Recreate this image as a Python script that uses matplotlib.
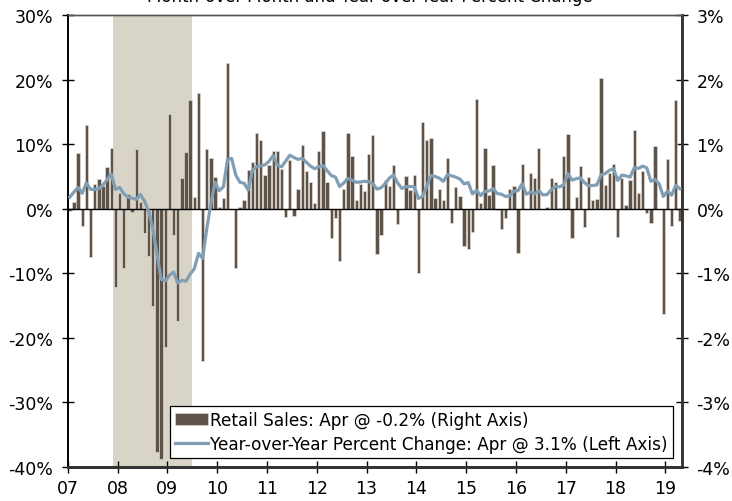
import matplotlib
matplotlib.use("Agg")
import matplotlib.pyplot as plt
import numpy as np


# monthly data, Jan 2007 .. Apr 2019
years = ["07", "08", "09", "10", "11", "12", "13", "14", "15", "16", "17", "18", "19"]

# retail sales, month-over-month % change (right axis)
mom = [
    -0.03, 0.10, 0.87, -0.27, 1.30, -0.75, 0.39, 0.46, 0.35, 0.65, 0.94, -1.21,   # 2007
    0.24, -0.92, 0.23, -0.05, 0.92, 0.10, -0.37, -0.73, -1.50, -3.77, -3.87, -2.14,  # 2008
    1.46, -0.40, -1.74, 0.47, 0.88, 1.68, 0.18, 1.80, -2.36, 0.92, 0.78, 0.49,    # 2009
    0.02, 0.17, 2.25, 0.00, -0.91, 0.03, 0.13, 0.60, 0.72, 1.18, 1.06, 0.52,      # 2010
    0.67, 0.89, 0.90, 0.61, -0.13, 0.75, -0.11, 0.30, 0.99, 0.58, 0.42, 0.09,     # 2011
    0.90, 1.21, 0.41, -0.46, -0.14, -0.81, 0.31, 1.18, 0.81, 0.13, 0.39, 0.27,    # 2012
    0.85, 1.14, -0.70, -0.41, 0.45, 0.36, 0.67, -0.23, -0.01, 0.50, 0.29, 0.53,   # 2013
    -0.99, 1.34, 1.07, 1.09, 0.17, 0.30, 0.13, 0.79, -0.22, 0.34, 0.19, -0.58,    # 2014
    -0.63, -0.36, 1.70, 0.09, 0.94, 0.21, 0.67, -0.02, -0.31, -0.14, 0.30, 0.35,  # 2015
    -0.68, 0.70, -0.01, 0.56, 0.47, 0.94, -0.01, 0.03, 0.47, 0.41, 0.01, 0.82,    # 2016
    1.16, -0.46, 0.18, 0.66, -0.28, 0.49, 0.14, 0.15, 2.02, 0.37, 0.56, 0.70,     # 2017
    -0.44, 0.47, 0.06, 0.44, 1.22, 0.24, 0.59, -0.07, -0.22, 0.97, 0.00, -1.63,   # 2018
    0.77, -0.27, 1.69, -0.19,                                                     # 2019
]

# year-over-year % change (left axis)
yoy = [
    1.8, 2.6, 3.3, 2.4, 4.0, 3.0, 3.0, 3.1, 3.7, 4.5, 5.4, 3.0,
    3.3, 2.35, 1.8, 1.65, 1.45, 2.2, 1.2, -0.4, -3.1, -7.0, -10.9, -11.2,
    -10.3, -9.8, -11.5, -11.1, -11.2, -10.1, -9.3, -6.9, -7.7, -3.1, 0.8, 4.1,
    2.8, 3.4, 7.6, 7.8, 5.2, 4.1, 3.95, 2.9, 6.0, 6.5, 6.65, 6.8,
    7.35, 8.25, 6.75, 6.5, 7.35, 8.3, 7.95, 7.65, 7.8, 7.2, 6.6, 6.2,
    6.5, 6.7, 5.9, 5.15, 4.9, 3.45, 4.0, 4.7, 4.45, 4.1, 4.15, 4.25,
    4.2, 3.9, 3.05, 3.25, 3.9, 4.75, 5.25, 4.0, 3.15, 3.4, 3.45, 3.4,
    1.6, 1.9, 3.5, 5.15, 5.0, 4.75, 4.25, 5.3, 5.1, 4.9, 4.6, 3.85,
    4.05, 2.3, 2.85, 2.05, 2.7, 2.75, 3.1, 2.35, 2.25, 1.9, 2.0, 2.75,
    2.8, 3.9, 2.25, 2.6, 2.3, 2.8, 2.15, 2.2, 2.95, 3.45, 3.4, 3.7,
    5.45, 4.45, 4.65, 4.8, 4.05, 3.55, 3.6, 3.7, 5.25, 5.45, 5.95, 6.2,
    4.4, 5.2, 5.1, 4.9, 6.35, 6.25, 6.6, 6.35, 4.25, 4.55, 3.85, 1.9,
    2.75, 2.1, 3.65, 3.1,
]

# recession: Dec 2007 - Jun 2009 (month index)
recession = (11, 30)


def main():
    plt.rcParams["font.family"] = "DejaVu Sans"
    n = len(mom)
    x = np.arange(n) + 0.5

    fig = plt.figure(figsize=(7.32, 5.02), dpi=100)
    ax2 = fig.add_axes([0.0925, 0.0677, 0.9317 - 0.0925, 0.968 - 0.0677])
    ax = ax2.twinx()
    # left axis (line) on top of bars
    ax.yaxis.tick_left()
    ax.yaxis.set_label_position("left")
    ax2.yaxis.tick_right()
    ax.set_zorder(ax2.get_zorder() + 1)
    ax.patch.set_visible(False)

    ax2.axvspan(recession[0], recession[1], color="#D8D4C8", lw=0, zorder=0)
    bars = ax2.bar(x, mom, width=0.8, color="#5E5349", edgecolor="#EAE5DC",
                   linewidth=0.4, zorder=2)
    ax2.axhline(0, color="black", lw=1.0, zorder=3)
    line, = ax.plot(x, yoy, color="#809FB4", lw=2.3, solid_joinstyle="round", zorder=4)

    ax.set_xlim(0, n)
    ax.set_ylim(-40, 30)
    ax2.set_ylim(-4, 3)
    ax.set_yticks(range(-40, 31, 10))
    ax.set_yticklabels(["%d%%" % v for v in range(-40, 31, 10)])
    ax2.set_yticks(range(-4, 4))
    ax2.set_yticklabels(["%d%%" % v for v in range(-4, 4)])
    ax2.set_xticks(range(0, n, 12))
    ax2.set_xticklabels(years)

    ax.tick_params(axis="y", direction="inout", length=9, width=1, labelsize=12.5, pad=6)
    ax2.tick_params(axis="y", direction="inout", length=9, width=1, labelsize=12.5, pad=6)
    ax2.tick_params(axis="x", direction="inout", length=9, width=1, labelsize=12.5, pad=4)
    ax.tick_params(axis="x", bottom=False, labelbottom=False)

    for a in (ax, ax2):
        a.spines["left"].set_color("black")
        a.spines["left"].set_linewidth(1.2)
        a.spines["right"].set_color("#333333")
        a.spines["right"].set_linewidth(1.8)
        a.spines["bottom"].set_color("#333333")
        a.spines["bottom"].set_linewidth(2.0)
        a.spines["top"].set_color("#555555")
        a.spines["top"].set_linewidth(1.0)

    leg = ax.legend([bars, line],
                    ["Retail Sales: Apr @ -0.2% (Right Axis)",
                     "Year-over-Year Percent Change: Apr @ 3.1% (Left Axis)"],
                    loc="lower right", bbox_to_anchor=(0.985, 0.02), borderaxespad=0,
                    fontsize=12.2, frameon=True, fancybox=False, framealpha=1,
                    edgecolor="black", handlelength=1.9, handletextpad=0.15,
                    borderpad=0.3, labelspacing=0.35)
    leg.get_frame().set_linewidth(0.9)

    fig.text(0.505, 1 - 1.5 / 502, "Month-over-Month and Year-over-Year Percent Change",
             ha="center", va="baseline", fontsize=12)

    fig.savefig("out.png", dpi=100)


if __name__ == "__main__":
    main()
